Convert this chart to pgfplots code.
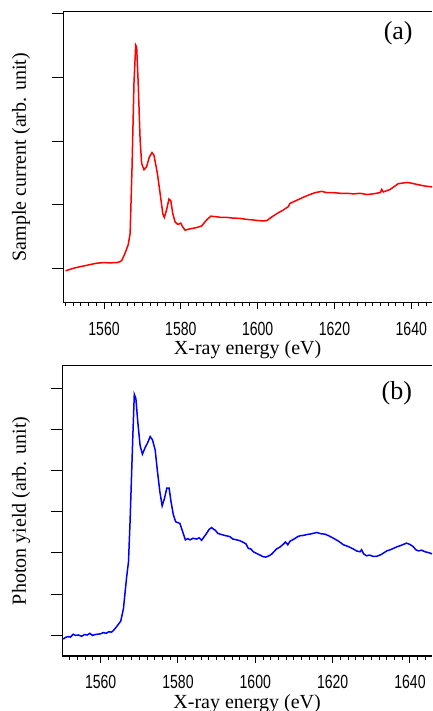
\documentclass[border=0pt]{standalone}
\usepackage{fontspec}
\setmainfont{Liberation Serif}
\newfontfamily\tickfont[FakeStretch=0.74]{Liberation Sans}
\usepackage{pgfplots}
\pgfplotsset{compat=1.18}

\pgfplotsset{
  xasstyle/.style={
    scale only axis,
    axis x line*=bottom, axis y line*=left,
    axis line style={-, line width=1.2bp},
    clip mode=individual,
    tick align=outside,
    major tick length=7bp, minor tick length=4bp,
    every tick/.style={black, line width=1bp},
    xtick={1560,1580,...,1640},
    minor xtick={1550,1552,...,1646},
    /pgf/number format/assume math mode=true,
    /pgf/number format/1000 sep={},
    xticklabel style={font=\tickfont\fontsize{19bp}{21bp}\selectfont, yshift=-9bp},
    ytick=\empty,
    extra y tick labels={},
    extra y tick style={major tick length=11bp, tick align=outside},
    label style={font=\fontsize{20bp}{24bp}\selectfont},
    xlabel={X-ray energy (eV)},
    xlabel style={at={(axis description cs:0.5,0)}, anchor=base, yshift=-52bp},
  }
}

\begin{document}
\begin{tikzpicture}[x=1bp,y=1bp]
\useasboundingbox (0,0) rectangle (432,711);
\clip (0,0) rectangle (432,711);

% (a) sample current
\begin{axis}[xasstyle,
  at={(63.3bp,408.5bp)}, anchor=south west,
  width=368.7bp, height=290.8bp,
  xmin=1549.4, xmax=1645.4, ymin=-0.538, ymax=4.036,
  extra y ticks={0,1,2,3,4},
  ylabel={Sample current (arb. unit)},
  ylabel style={at={(axis description cs:-0.1147,0.5)}, anchor=center},
]
\addplot[red, line width=1.5bp] coordinates {
(1550.0,-0.04) (1551.0,-0.02) (1552.0,0.00) (1553.75,0.025) (1555.0,0.04)
(1556.5,0.06) (1558.1,0.08) (1560.0,0.09) (1561.5,0.085) (1563.3,0.09)
(1564.0,0.10) (1564.6,0.12) (1565.5,0.24) (1566.3,0.37) (1566.8,0.55)
(1567.3,1.60) (1567.8,2.91) (1568.25,3.51) (1568.5,3.48) (1568.9,2.91)
(1569.4,2.02) (1569.8,1.65) (1570.4,1.55) (1571.1,1.60) (1571.8,1.75)
(1572.5,1.82) (1573.0,1.78) (1573.9,1.49) (1574.6,1.18) (1575.3,0.86)
(1575.7,0.80) (1576.3,0.92) (1576.9,1.09) (1577.4,1.06) (1577.9,0.86)
(1578.5,0.73) (1579.2,0.69) (1580.0,0.71) (1580.5,0.65) (1581.1,0.60)
(1582.4,0.62) (1584.1,0.64) (1585.4,0.665) (1586.7,0.76) (1587.8,0.82)
(1589.3,0.81) (1590.5,0.80) (1592.0,0.80) (1593.5,0.79) (1595.4,0.785)
(1597.0,0.77) (1598.9,0.76) (1600.2,0.75) (1601.5,0.745) (1602.4,0.75)
(1603.5,0.80) (1605.0,0.86) (1606.5,0.91) (1608.0,0.97) (1608.4,1.02)
(1610.2,1.07) (1612.0,1.12) (1613.6,1.16) (1615.0,1.19) (1616.7,1.21)
(1618.0,1.19) (1619.7,1.19) (1621.5,1.18) (1623.2,1.18) (1625.0,1.17)
(1626.7,1.18) (1628.4,1.16) (1630.0,1.17) (1631.9,1.19) (1632.3,1.24)
(1632.7,1.20) (1634.5,1.24) (1636.6,1.33) (1638.8,1.35) (1640.0,1.34)
(1641.4,1.32) (1643.0,1.30) (1644.0,1.29) (1645.5,1.28)
};
\draw[line width=1.2bp] (rel axis cs:0,1) -- (rel axis cs:1,1);
\node[font=\fontsize{26bp}{30bp}\selectfont] at (axis cs:1636.6,3.7) {(a)};
\end{axis}

% (b) photon yield
\begin{axis}[xasstyle,
  at={(62.2bp,55bp)}, anchor=south west,
  width=369.8bp, height=290.3bp,
  xmin=1550.05, xmax=1645.7, ymin=-0.512, ymax=6.568,
  extra y ticks={0,1,2,3,4,5,6},
  ylabel={Photon yield (arb. unit)},
  ylabel style={at={(axis description cs:-0.1114,0.5)}, anchor=center},
]
\addplot[blue, line width=1.5bp] coordinates {
(1550.3,-0.10) (1550.9,-0.06) (1551.5,-0.04) (1552.2,-0.05) (1552.9,0.02)
(1553.5,-0.01) (1554.2,0.00) (1555.1,-0.03) (1555.8,0.01) (1556.5,0.00)
(1557.2,0.04) (1557.9,-0.01) (1558.5,0.01) (1559.2,0.02) (1560.0,0.03)
(1560.7,0.06) (1561.4,0.04) (1562.1,0.08) (1562.8,0.07) (1563.3,0.11)
(1564.1,0.20) (1565.2,0.34) (1565.9,0.65) (1566.7,1.40) (1567.2,1.79)
(1567.6,2.76) (1568.3,4.80) (1568.7,5.87) (1569.1,5.77) (1569.6,5.20)
(1570.2,4.62) (1570.8,4.41) (1571.5,4.57) (1572.2,4.70) (1572.8,4.84)
(1573.4,4.76) (1574.1,4.51) (1574.7,3.98) (1575.3,3.50) (1575.9,3.15)
(1576.5,3.33) (1577.1,3.58) (1577.7,3.58) (1578.2,3.25) (1578.8,2.93)
(1579.4,2.76) (1580.0,2.74) (1580.5,2.72) (1581.2,2.52) (1581.9,2.32)
(1582.5,2.35) (1583.1,2.32) (1583.9,2.36) (1584.8,2.34) (1585.5,2.37)
(1586.1,2.31) (1586.8,2.40) (1587.4,2.48) (1588.1,2.58) (1588.7,2.62)
(1589.2,2.58) (1589.6,2.56) (1590.3,2.48) (1590.9,2.46) (1592.0,2.43)
(1593.4,2.40) (1594.2,2.34) (1595.2,2.32) (1596.0,2.30) (1596.9,2.26)
(1597.6,2.22) (1598.2,2.11) (1598.8,2.10) (1599.5,2.03) (1600.3,1.99)
(1601.2,1.95) (1602.0,1.91) (1602.7,1.90) (1603.5,1.93) (1604.2,1.97)
(1605.5,2.10) (1606.3,2.14) (1607.2,2.21) (1607.8,2.27) (1608.4,2.20)
(1609.0,2.29) (1610.0,2.34) (1611.0,2.40) (1611.6,2.42) (1612.5,2.43)
(1613.3,2.45) (1614.1,2.46) (1615.0,2.48) (1615.9,2.50) (1617.0,2.47)
(1618.0,2.46) (1619.0,2.42) (1620.2,2.36) (1621.5,2.29) (1622.8,2.20)
(1624.0,2.16) (1625.3,2.10) (1626.2,2.05) (1627.1,2.03) (1627.5,2.08)
(1628.0,1.98) (1628.8,1.93) (1629.5,1.95) (1630.4,1.92) (1631.4,1.92)
(1632.5,1.96) (1634.0,2.05) (1635.2,2.09) (1636.6,2.15) (1637.8,2.19)
(1639.1,2.24) (1640.0,2.21) (1640.9,2.15) (1641.5,2.08) (1642.2,2.05)
(1643.0,2.07) (1643.9,2.03) (1644.8,2.01) (1645.7,1.98)
};
\draw[line width=1.2bp] (rel axis cs:0,1) -- (rel axis cs:1,1);
\node[font=\fontsize{26bp}{30bp}\selectfont] at (axis cs:1636.6,5.9) {(b)};
\end{axis}
\end{tikzpicture}
\end{document}
